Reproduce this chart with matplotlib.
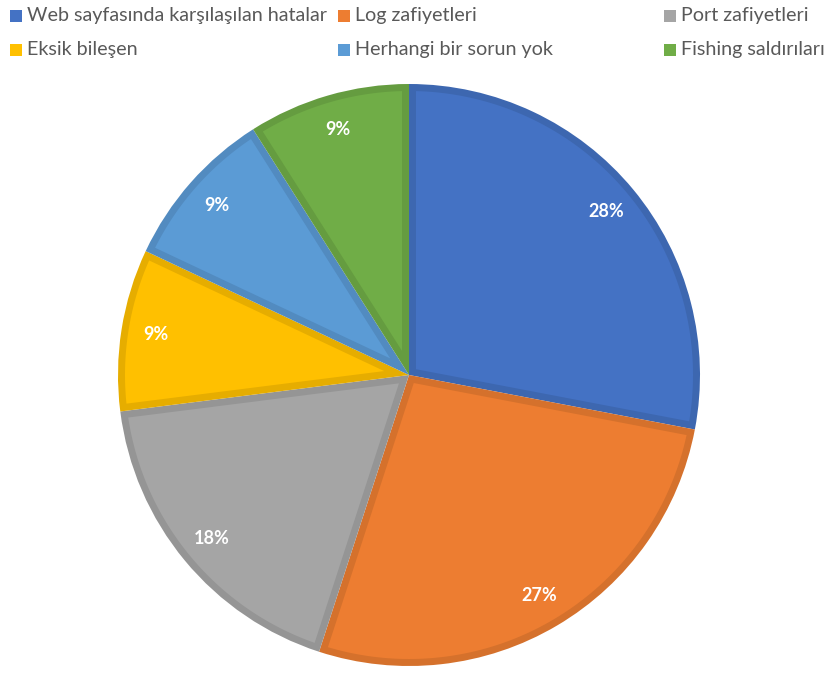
import numpy as np
import matplotlib
matplotlib.use("Agg")
import matplotlib.pyplot as plt
from matplotlib.colors import to_rgb
from matplotlib.patches import Rectangle, Polygon

labels = ["Web sayfasında karşılaşılan hatalar", "Log zafiyetleri", "Port zafiyetleri",
          "Eksik bileşen", "Herhangi bir sorun yok", "Fishing saldırıları"]
values = [28, 27, 18, 9, 9, 9]
colors = ["#4472C4", "#ED7D31", "#A5A5A5", "#FFC000", "#5B9BD5", "#70AD47"]

plt.rcParams['font.family'] = ['Lato', 'DejaVu Sans']

W, H = 832, 673
BORDER = 7  # inner border width in px (1 data unit = 1 px)


def darker(c, f=0.9):
    r, g, b = to_rgb(c)
    return (r * f, g * f, b * f)


def inset_wedge(w, d):
    # wedge shrunk by d on all sides, so the darker base shows as an inner border
    cx, cy = w.center
    R = w.r
    t1, t2 = np.radians(w.theta1), np.radians(w.theta2)
    half = (t2 - t1) / 2
    mid = (t1 + t2) / 2
    off = d / np.sin(half)
    apex = (cx + off * np.cos(mid), cy + off * np.sin(mid))
    rho = R - d
    delta = np.arcsin(d / rho)
    ang = np.linspace(t1 + delta, t2 - delta, 200)
    pts = [apex] + [(cx + rho * np.cos(a), cy + rho * np.sin(a)) for a in ang]
    return pts


fig = plt.figure(figsize=(W / 100, H / 100), dpi=100)
ax = fig.add_axes([0, 0, 1, 1])

wedges, texts, autotexts = ax.pie(
    values, colors=[darker(c) for c in colors], startangle=90, counterclock=False,
    center=(409, H - 375), radius=291, autopct='%1.0f%%', pctdistance=0.88,
    wedgeprops=dict(edgecolor='none', linewidth=0),
    textprops=dict(color='white', fontsize=13, fontweight='bold', zorder=5))

for w, c in zip(wedges, colors):
    ax.add_patch(Polygon(inset_wedge(w, BORDER), closed=True, facecolor=c,
                         edgecolor='none', zorder=w.get_zorder() + 0.1))

ax.set_xlim(0, W)
ax.set_ylim(0, H)
ax.set_aspect('equal')
ax.axis('off')

# legend laid out in two rows of three
col_x = [10, 338, 664]
row_y = [16, 50]
for i, (lab, c) in enumerate(zip(labels, colors)):
    x = col_x[i % 3]
    y = H - row_y[i // 3]
    ax.add_patch(Rectangle((x, y - 6), 12, 12, facecolor=c, edgecolor='none'))
    ax.text(x + 17, y, lab, fontsize=14.2, color='#595959', va='center', ha='left')

fig.savefig("out.png", dpi=100)
